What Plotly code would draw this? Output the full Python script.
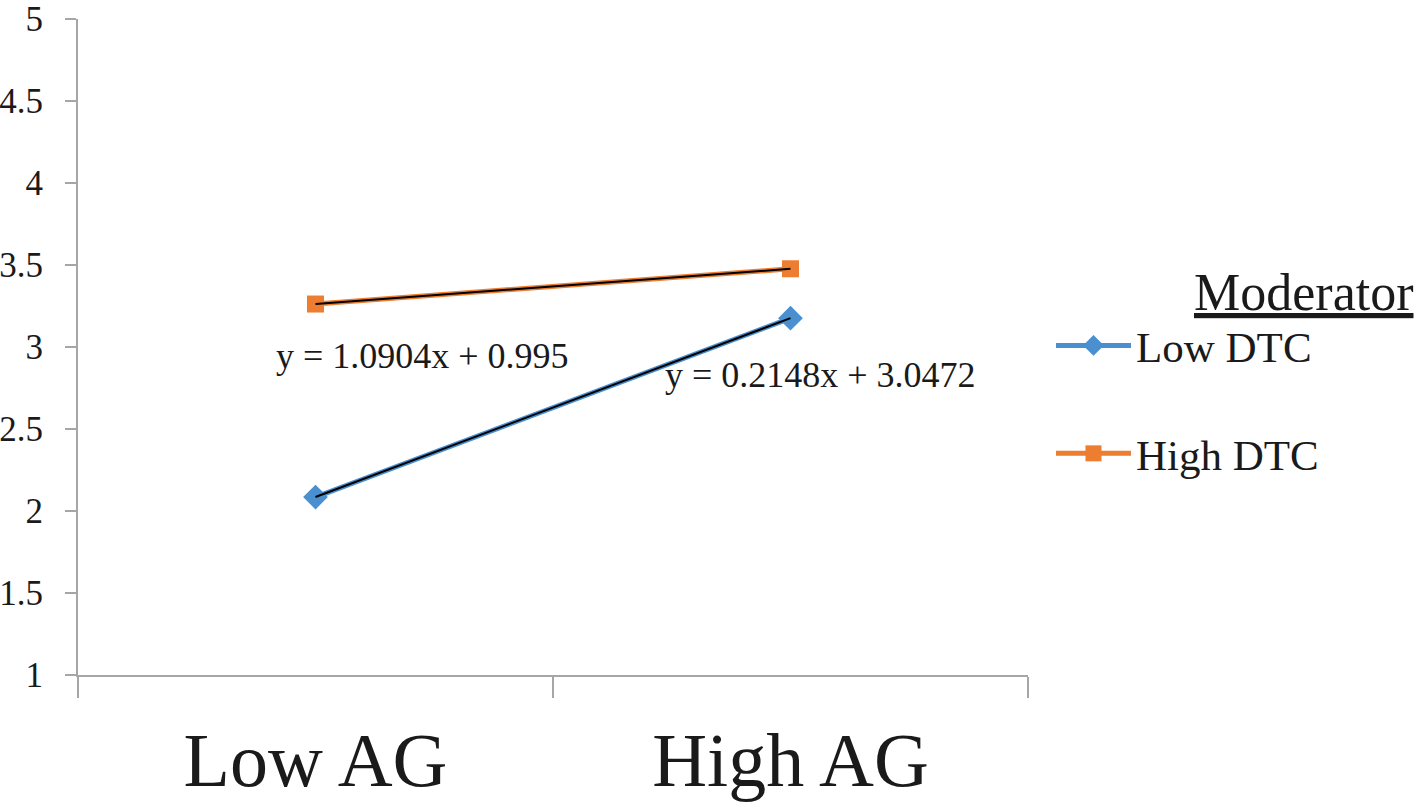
import plotly.graph_objects as go

categories = ["Low AG", "High AG"]
low_dtc = [2.085, 3.176]
high_dtc = [3.262, 3.477]
eq_low = "y = 1.0904x + 0.995"
eq_high = "y = 0.2148x + 3.0472"
y_ticks = [1, 1.5, 2, 2.5, 3, 3.5, 4, 4.5, 5]
y_ticktext = ["1", "1.5", "2", "2.5", "3", "3.5", "4", "4.5", "5"]

serif = "Liberation Serif"
blue = "#4A8FCF"
orange = "#ED7D31"
grey = "#A6A6A6"

fig = go.Figure()
fig.add_trace(go.Scatter(x=categories, y=low_dtc, name="Low DTC", mode="lines+markers",
                         line=dict(color=blue, width=5),
                         marker=dict(symbol="diamond", size=19, color=blue),
                         legendgroup="a"))
fig.add_trace(go.Scatter(x=categories, y=high_dtc, name="High DTC", mode="lines+markers",
                         line=dict(color=orange, width=5),
                         marker=dict(symbol="square", size=17, color=orange),
                         legendgroup="b"))
# linear trendlines (black, thin) through each series
for vals in (low_dtc, high_dtc):
    fig.add_trace(go.Scatter(x=categories, y=vals, mode="lines", showlegend=False,
                             line=dict(color="black", width=2), hoverinfo="skip"))

fig.add_annotation(x=0.226, y=2.945, xref="x", yref="y", text=eq_low, showarrow=False,
                   font=dict(family=serif, size=36, color="#1a1a1a"))
fig.add_annotation(x=1.064, y=2.83, xref="x", yref="y", text=eq_high, showarrow=False,
                   font=dict(family=serif, size=36, color="#1a1a1a"))
fig.add_annotation(x=(1415 - 78) / 950, y=(675 - 292) / 656, xref="paper", yref="paper",
                   text="<u>Moderator</u>", showarrow=False, xanchor="right", yanchor="middle",
                   font=dict(family=serif, size=52, color="#1a1a1a"))

fig.update_layout(
    width=1421, height=808,
    margin=dict(l=78, r=393, t=19, b=133),
    paper_bgcolor="white", plot_bgcolor="white",
    font=dict(family=serif, color="#1a1a1a"),
    legend=dict(x=(1051 - 78) / 950, y=(675 - 311) / 656, xanchor="left", yanchor="top",
                font=dict(family=serif, size=43, color="#1a1a1a"),
                tracegroupgap=49, itemwidth=75, bgcolor="rgba(0,0,0,0)"),
    xaxis=dict(type="category", range=[-0.5, 1.5], tickson="boundaries",
               ticks="outside", ticklen=21, tickwidth=2, tickcolor=grey,
               showline=True, linecolor=grey, linewidth=2, showgrid=False,
               automargin=False, ticklabelstandoff=18,
               tickfont=dict(family=serif, size=76, color="#1a1a1a")),
    yaxis=dict(range=[1, 5], tickvals=y_ticks, ticktext=y_ticktext,
               ticks="outside", ticklen=11, tickwidth=2, tickcolor=grey,
               showline=True, linecolor=grey, linewidth=2, showgrid=False,
               zeroline=False, ticklabelstandoff=15, automargin=False,
               tickfont=dict(family=serif, size=35, color="#1a1a1a")),
)

# drop the default 8px body margin so the figure sits at the window's corner
fig.write_html("out.html", config={"displayModeBar": False},
               post_script="document.body.style.margin='0';")
